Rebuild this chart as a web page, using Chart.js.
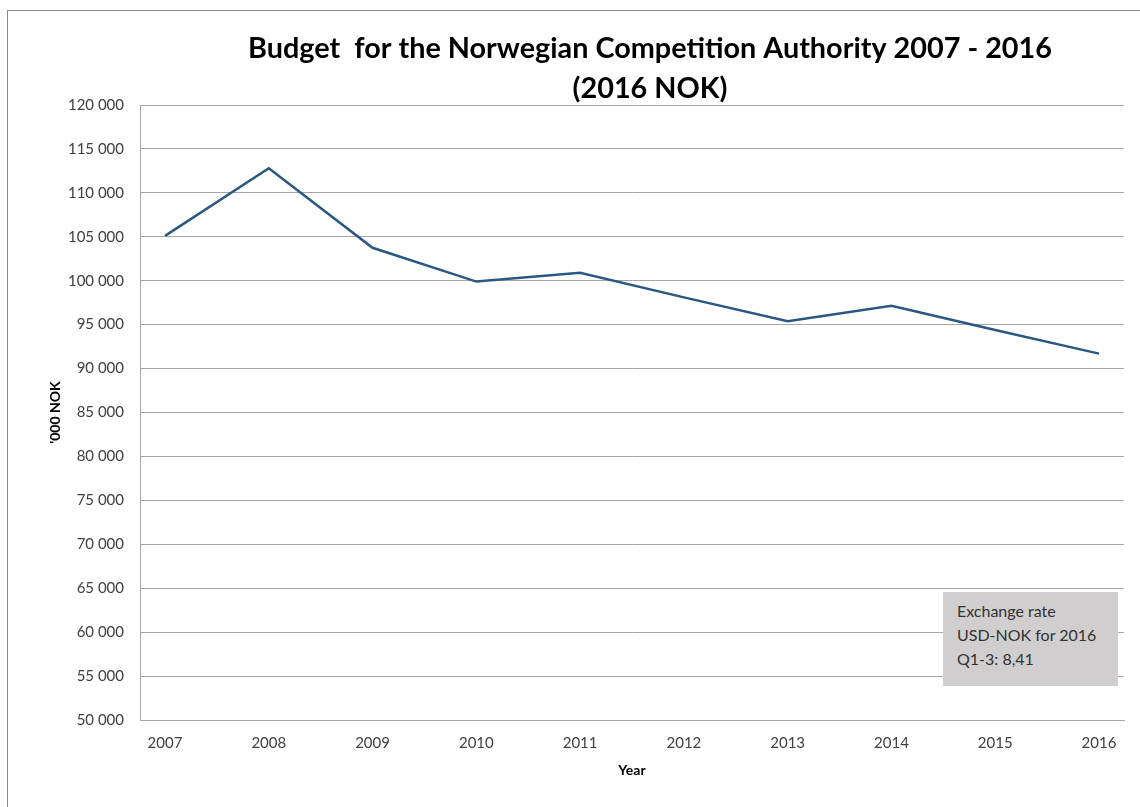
<!DOCTYPE html>
<html>
<head>
<meta charset="utf-8">
<script src="https://cdn.jsdelivr.net/npm/chart.js@4"></script>
<style>
  html, body { margin: 0; padding: 0; background: #fff; overflow: hidden; width: 1140px; height: 807px; }
  #wrap { position: relative; width: 1140px; height: 807px; overflow: hidden; }
  #frame { position: absolute; left: 7px; top: 10px; width: 1300px; height: 900px; border: 1px solid #8c8c8c; box-sizing: border-box; }
  #budgetChart { position: absolute; left: 0; top: 0; }
  #rateNote {
    position: absolute; left: 943px; top: 592px; width: 175px; height: 94px;
    background: #d0cece; box-sizing: border-box; padding: 7px 0 0 14px;
    font: 16px Lato, sans-serif; line-height: 24px; color: #333; white-space: nowrap;
  }
</style>
</head>
<body>
<div id="wrap">
  <div id="frame"></div>
  <canvas id="budgetChart" width="1300" height="807"></canvas>
  <div id="rateNote">Exchange rate<br>USD-NOK for 2016<br>Q1-3: 8,41</div>
</div>
<script>
// Budget in '000 NOK (2016 prices)
const years = [2007, 2008, 2009, 2010, 2011, 2012, 2013, 2014, 2015, 2016];
const budget = [105100, 112800, 103750, 99900, 100900, 98100, 95400, 97150, 94400, 91700];

const titleLines = ["Budget  for the Norwegian Competition Authority 2007 - 2016", "(2016 NOK)"];
const yTitle = "'000 NOK";
const xTitle = "Year";

const fmt = (v) => String(v).replace(/\B(?=(\d{3})+(?!\d))/g, " ");
const gridGrey = "#a6a6a6";

const ctx = document.getElementById("budgetChart").getContext("2d");

const chart = new Chart(ctx, {
  type: "line",
  data: {
    datasets: [{
      label: "Budget",
      data: years.map((y, i) => ({ x: y, y: budget[i] })),
      borderColor: "#2b5783",
      borderWidth: 2.5,
      pointRadius: 0,
      tension: 0,
      fill: false,
    }],
  },
  options: {
    responsive: false,
    animation: false,
    devicePixelRatio: 1,
    layout: { padding: 0 },
    plugins: {
      legend: { display: false },
      tooltip: { enabled: false },
      title: {
        display: true,
        text: titleLines,
        color: "#000",
        font: { family: "Lato", size: 28.8, weight: "bold", lineHeight: 40 / 28.8 },
        padding: { top: 29, bottom: -4 },
      },
    },
    scales: {
      x: {
        type: "linear",
        min: 2006.759,
        max: 2016.241,
        afterBuildTicks: (scale) => { scale.ticks = years.map((v) => ({ value: v })); },
        afterFit: (scale) => { scale.height = 87; },
        grid: { display: false, drawTicks: false },
        border: { display: true, color: gridGrey },
        ticks: {
          padding: 14,
          color: "#404040",
          font: { family: "Lato", size: 15 },
          callback: (v) => String(v),
          maxRotation: 0,
          autoSkip: false,
        },
        title: {
          display: true,
          text: xTitle,
          color: "#000",
          font: { family: "Lato", size: 14, weight: "bold", lineHeight: 1.2 },
          padding: { top: 0, bottom: 28.6 },
        },
      },
      y: {
        min: 50000,
        max: 120000,
        afterFit: (scale) => { scale.width = 140; },
        grid: { color: gridGrey, drawTicks: false },
        border: { display: true, color: gridGrey },
        ticks: {
          stepSize: 5000,
          padding: 16,
          color: "#404040",
          font: { family: "Lato", size: 15 },
          callback: (v) => fmt(v),
        },
        title: {
          display: true,
          text: yTitle,
          color: "#000",
          font: { family: "Lato", size: 14, weight: "bold", lineHeight: 1.2 },
          padding: { top: 46.6, bottom: 0 },
        },
      },
      // empty right axis, only reserves the space to the right of the plot
      spacer: {
        position: "right",
        afterFit: (scale) => { scale.width = 176; },
        grid: { display: false, drawTicks: false },
        border: { display: false },
        ticks: { display: false },
      },
    },
  },
});
</script>
</body>
</html>
